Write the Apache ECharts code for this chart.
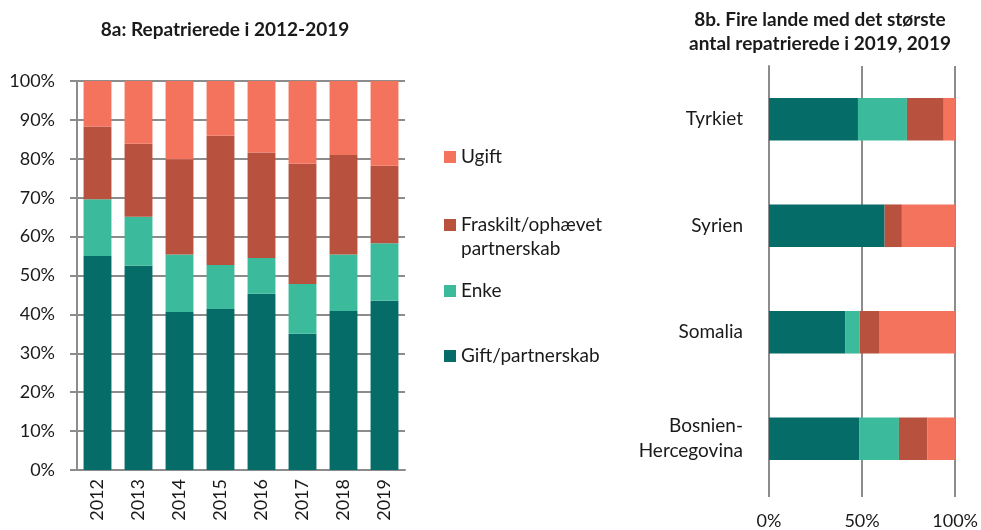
<!DOCTYPE html>
<html>
<head>
<meta charset="utf-8">
<script src="https://cdn.jsdelivr.net/npm/echarts@6/dist/echarts.min.js"></script>
<style>
  html, body { margin: 0; padding: 0; background: #fff; }
  #chart { width: 981px; height: 530px; }
</style>
</head>
<body>
<div id="chart"></div>
<script>
const years = ["2012", "2013", "2014", "2015", "2016", "2017", "2018", "2019"];
const giftYears = [55.0, 52.5, 40.6, 41.4, 45.3, 35.0, 40.9, 43.5];
const enkeYears = [14.6, 12.6, 14.8, 11.3, 9.2, 12.8, 14.5, 14.8];
const fraskiltYears = [18.7, 18.8, 24.5, 33.2, 27.1, 30.9, 25.6, 19.9];
const ugiftYears = [11.7, 16.1, 20.1, 14.1, 18.4, 21.3, 19.0, 21.8];

const countries = ["Tyrkiet", "Syrien", "Somalia", "Bosnien-\nHercegovina"];
const giftCountries = [47.8, 62.1, 40.9, 48.4];
const enkeCountries = [26.3, 0, 7.8, 21.4];
const fraskiltCountries = [19.8, 9.3, 10.4, 15.4];
const ugiftCountries = [6.1, 28.6, 40.9, 14.8];

const yTicks = [0, 10, 20, 30, 40, 50, 60, 70, 80, 90, 100];

const colors = {
  gift: "#066c67",
  enke: "#3bbb9b",
  fraskilt: "#b8523f",
  ugift: "#f4735d",
};
const names = {
  gift: "Gift/partnerskab",
  enke: "Enke",
  fraskilt: "Fraskilt/ophævet partnerskab",
  ugift: "Ugift",
};

const font = "Lato, 'Liberation Sans', sans-serif";
const grey = "#8c8c8c";
const textColor = "#1a1a1a";

function barSeries(key, data, axisIndex, stack, gap) {
  return {
    name: names[key],
    type: "bar",
    stack: stack,
    xAxisIndex: axisIndex,
    yAxisIndex: axisIndex,
    barCategoryGap: gap,
    itemStyle: { color: colors[key] },
    data: data,
  };
}

// square icon, placed in the top third for the two-line item
const topSquare = "path://M0,0H12V12H0Z M0,35.9H12V36H0Z";

function legendItem(key, top, label, twoLines) {
  return {
    left: 444,
    top: top,
    padding: 0,
    itemWidth: 12,
    itemHeight: twoLines ? 36 : 12,
    itemGap: 0,
    icon: twoLines ? topSquare : "rect",
    selectedMode: false,
    data: [names[key]],
    formatter: () => label,
    textStyle: { fontFamily: font, fontSize: 19, color: textColor, lineHeight: 24 },
  };
}

const chart = echarts.init(document.getElementById("chart"));
const option = {
  animation: false,
  textStyle: { fontFamily: font },
  title: [
    {
      text: "8a: Repatrierede i 2012-2019",
      left: 225,
      top: 18,
      padding: 0,
      textAlign: "center",
      textStyle: { fontFamily: font, fontSize: 19, fontWeight: "bold", color: textColor, lineHeight: 24 },
    },
    {
      text: "8b. Fire lande med det største\nantal repatrierede i 2019, 2019",
      left: 820,
      top: 8,
      padding: 0,
      textAlign: "center",
      textStyle: { fontFamily: font, fontSize: 19, fontWeight: "bold", color: textColor, lineHeight: 24 },
    },
  ],
  legend: [
    legendItem("ugift", 145, "Ugift", false),
    legendItem("fraskilt", 213, "Fraskilt/ophævet\npartnerskab", true),
    legendItem("enke", 279, "Enke", false),
    legendItem("gift", 344, "Gift/partnerskab", false),
  ],
  grid: [
    { left: 77, right: 576, top: 81, bottom: 60 },
    { left: 769, right: 25, top: 66, bottom: 35 },
  ],
  xAxis: [
    {
      type: "category",
      gridIndex: 0,
      data: years,
      axisLine: { lineStyle: { color: grey, width: 2 } },
      axisTick: { length: 7, lineStyle: { color: grey, width: 2 } },
      axisLabel: { rotate: 90, margin: 9, fontSize: 18, color: textColor, fontFamily: font },
    },
    {
      type: "value",
      gridIndex: 1,
      min: 0,
      max: 100,
      interval: 50,
      axisLine: { show: false },
      axisTick: { show: true, length: 5, lineStyle: { color: grey, width: 2 } },
      splitLine: { lineStyle: { color: grey, width: 2 } },
      axisLabel: { margin: 20, fontSize: 18, color: textColor, fontFamily: font, formatter: "{value}%" },
    },
  ],
  yAxis: [
    {
      type: "value",
      gridIndex: 0,
      min: yTicks[0],
      max: yTicks[yTicks.length - 1],
      interval: 10,
      axisLine: { show: true, lineStyle: { color: grey, width: 2 } },
      axisTick: { show: true, length: 7, lineStyle: { color: grey, width: 2 } },
      splitLine: { lineStyle: { color: grey, width: 2 } },
      axisLabel: { margin: 22, fontSize: 18, color: textColor, fontFamily: font, formatter: "{value}%" },
    },
    {
      type: "category",
      gridIndex: 1,
      inverse: true,
      data: countries,
      axisLine: { lineStyle: { color: grey, width: 2 } },
      axisTick: { length: 6, lineStyle: { color: grey, width: 2 } },
      axisLabel: { margin: 26, fontSize: 19, color: textColor, fontFamily: font, align: "right", lineHeight: 25 },
    },
  ],
  series: [
    barSeries("gift", giftYears, 0, "a", "32%"),
    barSeries("enke", enkeYears, 0, "a", "32%"),
    barSeries("fraskilt", fraskiltYears, 0, "a", "32%"),
    barSeries("ugift", ugiftYears, 0, "a", "32%"),
    barSeries("gift", giftCountries, 1, "b", "60%"),
    barSeries("enke", enkeCountries, 1, "b", "60%"),
    barSeries("fraskilt", fraskiltCountries, 1, "b", "60%"),
    barSeries("ugift", ugiftCountries, 1, "b", "60%"),
  ],
};
chart.setOption(option);
</script>
</body>
</html>
